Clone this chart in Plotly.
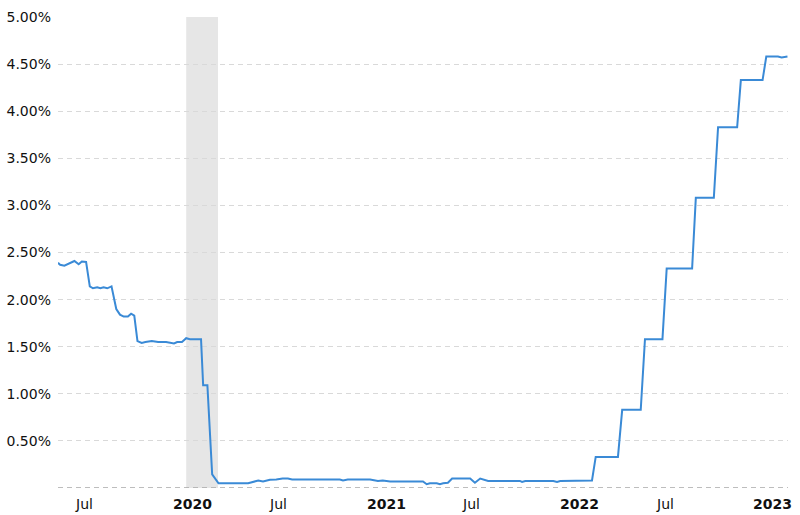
import plotly.graph_objects as go

dates = [
    "2019-06-06", "2019-06-10", "2019-06-18", "2019-06-26", "2019-07-07", "2019-07-15",
    "2019-07-21", "2019-07-29", "2019-08-05", "2019-08-11", "2019-08-19", "2019-08-25",
    "2019-08-31", "2019-09-07", "2019-09-15", "2019-09-24", "2019-10-01", "2019-10-08",
    "2019-10-16", "2019-10-22", "2019-10-28", "2019-11-03", "2019-11-11", "2019-11-18",
    "2019-11-30", "2019-12-12", "2019-12-27", "2020-01-11", "2020-01-17", "2020-01-26",
    "2020-02-03", "2020-02-10", "2020-03-02", "2020-03-06", "2020-03-14", "2020-03-23",
    "2020-04-04", "2020-05-30", "2020-06-09", "2020-06-18", "2020-06-27", "2020-07-10",
    "2020-07-22", "2020-08-03", "2020-08-13", "2020-08-21", "2020-11-19", "2020-11-25",
    "2020-12-04", "2021-01-15", "2021-01-30", "2021-02-08", "2021-02-22", "2021-04-25",
    "2021-05-02", "2021-05-08", "2021-05-21", "2021-05-27", "2021-06-02", "2021-06-11",
    "2021-06-19", "2021-07-23", "2021-08-01", "2021-08-11", "2021-08-26", "2021-10-25",
    "2021-10-29", "2021-11-04", "2021-12-27", "2022-01-03", "2022-01-09", "2022-03-10",
    "2022-03-17", "2022-04-28", "2022-05-06", "2022-06-10", "2022-06-18", "2022-07-21",
    "2022-07-29", "2022-09-15", "2022-09-22", "2022-10-26", "2022-11-03", "2022-12-09",
    "2022-12-16", "2023-01-26", "2023-02-02", "2023-02-24", "2023-03-03", "2023-03-14",
]
rates = [
    2.39, 2.37, 2.36, 2.38, 2.41, 2.375,
    2.405, 2.40, 2.14, 2.12, 2.13, 2.12,
    2.13, 2.12, 2.14, 1.90, 1.84, 1.82,
    1.82, 1.85, 1.83, 1.56, 1.54, 1.55,
    1.56, 1.55, 1.55, 1.535, 1.55, 1.55,
    1.59, 1.58, 1.58, 1.09, 1.09, 0.145,
    0.05, 0.05, 0.07, 0.08, 0.07, 0.088,
    0.09, 0.10, 0.10, 0.09, 0.09, 0.08,
    0.09, 0.09, 0.075, 0.08, 0.07, 0.07,
    0.04, 0.05, 0.05, 0.04, 0.05, 0.055,
    0.10, 0.10, 0.056, 0.10, 0.075, 0.075,
    0.065, 0.075, 0.075, 0.065, 0.075, 0.08,
    0.33, 0.33, 0.83, 0.83, 1.58, 1.58,
    2.33, 2.33, 3.08, 3.08, 3.83, 3.83,
    4.33, 4.33, 4.58, 4.58, 4.57, 4.58,
]

recession_start = "2020-02-03"
recession_end = "2020-04-03"

y_ticks = [0.5, 1.0, 1.5, 2.0, 2.5, 3.0, 3.5, 4.0, 4.5, 5.0]
y_tick_text = [f"{v:.2f}%" for v in y_ticks]
x_tick_dates = ["2019-07-01", "2020-01-01", "2020-07-01", "2021-01-01",
                "2021-07-01", "2022-01-01", "2022-07-01", "2023-01-01"]
x_tick_text = ["Jul", "2020", "Jul", "2021", "Jul", "2022", "Jul", "2023"]
x_tick_bold = [False, True, False, True, False, True, False, True]

FONT = "DejaVu Sans"

fig = go.Figure()
fig.add_trace(go.Scatter(
    x=dates, y=rates, mode="lines",
    line=dict(color="#3a8ad6", width=2),
    hoverinfo="skip", showlegend=False,
))

fig.add_shape(type="rect", xref="x", yref="paper",
              x0=recession_start, x1=recession_end, y0=0, y1=1,
              fillcolor="#e6e6e6", line=dict(width=0), layer="below")
fig.add_shape(type="line", xref="paper", yref="y", x0=0, x1=1, y0=0, y1=0,
              line=dict(color="#a8a8a8", width=1.5, dash="5px,4px"), layer="below")

for d, t, b in zip(x_tick_dates, x_tick_text, x_tick_bold):
    fig.add_annotation(
        x=d, xref="x", y=0, yref="paper", yanchor="top", xanchor="left",
        text=f"<b>{t}</b>" if b else t, showarrow=False, xshift=2, yshift=-6,
        font=dict(family=FONT, size=14, color="#111111"),
    )

fig.update_layout(
    width=800, height=515,
    margin=dict(l=58, r=12, t=17, b=27),
    paper_bgcolor="white", plot_bgcolor="white",
    font=dict(family=FONT, size=14, color="#111111"),
    xaxis=dict(range=["2019-06-06", "2023-03-15"], showgrid=False,
               showticklabels=False, zeroline=False, showline=False),
    yaxis=dict(range=[0, 5], tickvals=y_ticks, ticktext=y_tick_text,
               showgrid=True, gridcolor="#d9d9d9", griddash="5px,4px", gridwidth=1,
               zeroline=False, showline=False, ticks="", ticklabelstandoff=6,
               automargin=False),
)

fig.write_html("out.html", config={"displayModeBar": False},
               post_script="document.body.style.margin='0';document.body.style.padding='0';")
